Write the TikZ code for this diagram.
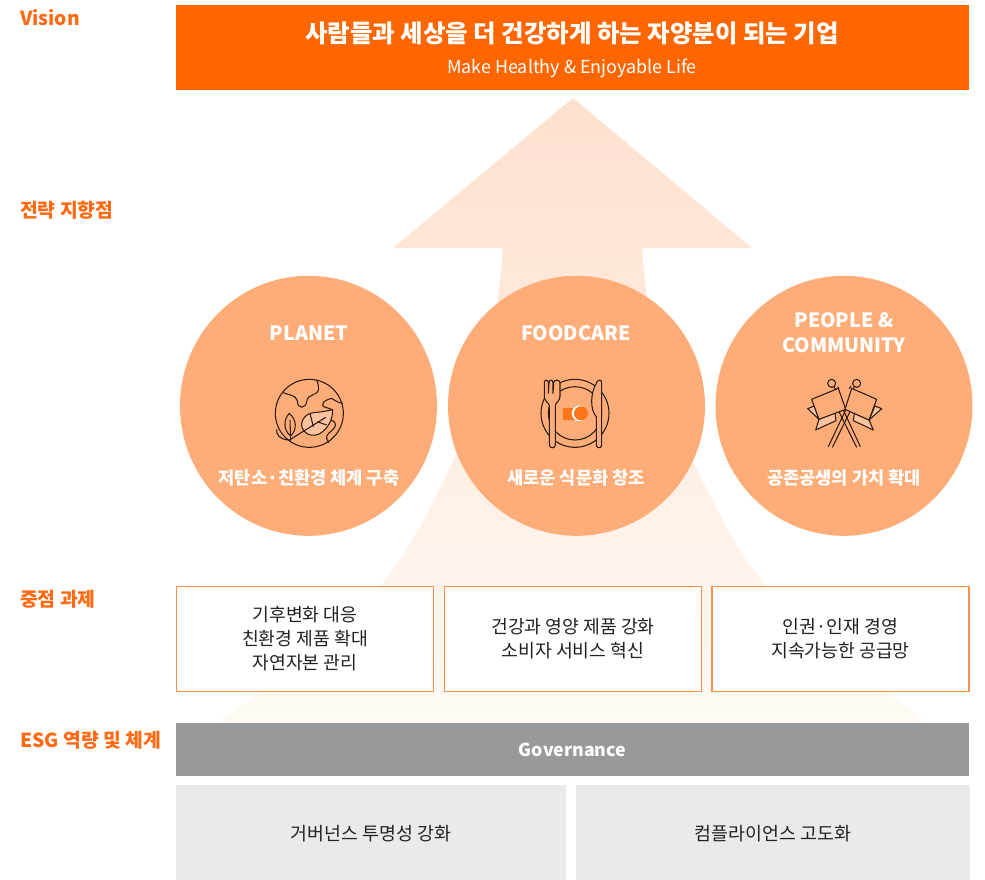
\documentclass[tikz,border=0pt]{standalone}
\usepackage{fontspec}
\setmainfont{Noto Sans CJK KR}
\usetikzlibrary{positioning,shapes.geometric}
\definecolor{mainorange}{HTML}{FF6600}
\definecolor{labelorange}{HTML}{FF6A13}
\definecolor{circleorange}{HTML}{FFAD78}
\definecolor{boxborder}{HTML}{FF8F4D}
\definecolor{govgray}{HTML}{999999}
\definecolor{lightgray}{HTML}{EAEAEA}
\definecolor{leaftone}{HTML}{FFC49E}
\definecolor{inkline}{HTML}{2A1A10}
\definecolor{texttone}{HTML}{222222}
\tikzset{
  sidelabel/.style={anchor=west,text=labelorange,font=\fontsize{11}{12}\selectfont\bfseries},
  pillar/.style={ellipse,fill=circleorange,minimum width=257*0.02cm,minimum height=260*0.02cm,inner sep=0pt},
  pillarname/.style={text=white,align=center,font=\fontsize{11.2}{14.4}\selectfont\bfseries},
  pillartext/.style={text=white,font=\fontsize{10}{12}\selectfont\bfseries},
  taskbox/.style={draw=boxborder,line width=.6pt,fill=white,minimum width=257*0.02cm,minimum height=105*0.02cm,inner sep=0pt,align=center,text=texttone,font=\fontsize{10.4}{13.7}\selectfont},
  basebox/.style={fill=lightgray,minimum height=97*0.02cm,inner sep=0pt,text=texttone,font=\fontsize{10.45}{12}\selectfont},
  icon/.style={draw=inkline,line width=.6pt,line join=round},
}
\begin{document}
\begin{tikzpicture}[x=.02cm,y=-.02cm]
    \useasboundingbox (0,0) rectangle (985,880);
    %Arrow
    \shade[top color=orange!15!white!95!red,bottom color=orange!4!white,shading angle=0]
      (573,98)--(752,248)--(642,248)
      .. controls (650,360) and (676,430) .. (707,490)
      .. controls (729,532) and (736,549) .. (766,586)
      .. controls (796,623) and (884,692) .. (929,723)
      --(217,723)
      .. controls (262,692) and (350,623) .. (380,586)
      .. controls (410,549) and (417,532) .. (439,490)
      .. controls (470,430) and (495,360) .. (503,248)
      --(393,248)--cycle;
    %Vision
    \node[fill=mainorange,minimum width=793*0.02cm,minimum height=85*0.02cm,inner sep=0pt] (vision) at (572.5,47.5) {};
    \node[text=white,font=\fontsize{13.9}{16}\selectfont\bfseries] (visiontitle) at (572,33) {사람들과 세상을 더 건강하게 하는 자양분이 되는 기업};
    \node[text=white,font=\fontsize{10.2}{12}\selectfont] (visionsub) at (572,68) {Make Healthy \& Enjoyable Life};
    %Side labels
    \node[sidelabel] (lvision) at (14,18) {Vision};
    \node[sidelabel] (lstrategy) at (14,210) {전략 지향점};
    \node[sidelabel] (ltask) at (14,599) {중점 과제};
    \node[sidelabel] (lesg) at (14,740) {ESG 역량 및 체계};
    %Circles
    \node[pillar] (planet) at (308.5,405.8) {};
    \node[pillar] (foodcare) at (576.5,405.8) {};
    \node[pillar] (people) at (844,405.8) {};
    \node[pillarname] (planetname) at (309,333) {PLANET};
    \node[pillarname] (foodname) at (576,333) {FOODCARE};
    \node[pillarname] (peoplename) at (844,333) {PEOPLE \&\\COMMUNITY};
    \node[pillartext] (planettext) at (309,478) {저탄소·친환경 체계 구축};
    \node[pillartext] (foodtext) at (576,478) {새로운 식문화 창조};
    \node[pillartext] (peopletext) at (844,478) {공존공생의 가치 확대};
    %Earth
    \begin{scope}[shift={(260,370)},x=.00667cm,y=-.00667cm]
    \draw[icon] (148,130) circle (102*.00667cm);
    \draw[icon] (70,68) .. controls (85,75) and (108,75) .. (112,92) .. controls (112,120) and (138,115) .. (140,95) .. controls (143,70) and (170,80) .. (176,58) .. controls (178,48) and (172,40) .. (170,30);
    \draw[icon] (248,100) .. controls (232,98) and (220,88) .. (215,85) .. controls (205,88) and (188,92) .. (188,105) .. controls (188,113) and (205,112) .. (218,120);
    \draw[icon] (208,150) .. controls (225,150) and (232,165) .. (222,175) .. controls (212,188) and (198,190) .. (200,205) .. controls (202,212) and (205,215) .. (207,218);
    \draw[icon] (50,178) .. controls (48,195) and (60,208) .. (86,210);
    \draw[icon,fill=leaftone] (133,184) .. controls (112,160) and (135,130) .. (160,128) .. controls (185,126) and (205,122) .. (218,119) .. controls (218,150) and (205,175) .. (178,192) .. controls (160,200) and (142,195) .. (133,184) --cycle;
    \draw[icon] (85,212)--(197,142) (150,130)--(160,170) (172,155)--(200,165);
    \draw[icon] (88,130) .. controls (68,150) and (72,185) .. (92,197) .. controls (112,180) and (110,148) .. (88,130) --cycle;
    \draw[icon] (90,150)--(92,212);
    \end{scope}
    %Plate
    \begin{scope}[shift={(525,370)},x=.00667cm,y=-.00667cm]
    \draw[icon] (150,130) circle (102*.00667cm);
    \draw[icon] (150,130) circle (80*.00667cm);
    \draw[icon,fill=circleorange] (58,38) .. controls (58,28) and (70,28) .. (70,38) --(70,70) --(72,38) .. controls (72,28) and (84,28) .. (84,38)--(84,70) --(86,38) .. controls (86,28) and (105,28) .. (105,38) --(105,80) .. controls (105,92) and (92,98) .. (91,106) --(91,225) .. controls (91,236) and (73,236) .. (73,225) --(73,106) .. controls (70,98) and (58,92) .. (58,80) --cycle;
    \draw[icon,fill=circleorange] (216,36) .. controls (220,28) and (230,28) .. (230,38) --(230,225) .. controls (230,236) and (214,236) .. (214,225) --(214,140) .. controls (195,120) and (195,70) .. (216,36) --cycle;
    \fill[mainorange!90!white] (115,113) rectangle (150,150);
    \fill[white] (163,130) circle (23*.00667cm);
    \fill[mainorange!90!white] (168,130) circle (21*.00667cm);
    \end{scope}
    %Flags
    \begin{scope}[shift={(795,370)},x=.00667cm,y=-.00667cm]
    \draw[icon,fill=leaftone] (38,116)--(58,108)--(72,148)--(120,128)--(123,152)--(62,180)--(72,148)--cycle;
    \draw[icon,fill=leaftone] (260,116)--(240,108)--(222,150)--(178,130)--(175,152)--(235,180)--(222,150)--cycle;
    \draw[icon] (110,40) circle (12*.00667cm) (185,40) circle (12*.00667cm);
    \draw[icon] (117,52)--(122,58) (128,50)--(132,56) (178,52)--(172,60) (168,48)--(163,56);
    \draw[icon] (132,125)--(185,232) (145,120)--(196,230);
    \draw[icon] (165,125)--(112,232) (152,120)--(100,230);
    \draw[icon,fill=circleorange] (50,88)--(130,55)--(152,118)--(72,148)--cycle;
    \draw[icon,fill=circleorange] (245,88)--(170,55)--(150,118)--(222,150)--cycle;
    \end{scope}
    %Tasks
    \node[taskbox] (climate) at (305,639) {기후변화 대응\\친환경 제품 확대\\자연자본 관리};
    \node[taskbox] (health) at (573,639) {건강과 영양 제품 강화\\소비자 서비스 혁신};
    \node[taskbox] (human) at (840.5,639) {인권·인재 경영\\지속가능한 공급망};
    %Governance
    \node[fill=govgray,minimum width=793*0.02cm,minimum height=53*0.02cm,inner sep=0pt,text=white,font=\fontsize{10.1}{12}\selectfont\bfseries] (gov) at (572.5,749.5) {Governance};
    \node[basebox,minimum width=390*0.02cm] (transparency) at (371,833.5) {거버넌스 투명성 강화};
    \node[basebox,minimum width=394*0.02cm] (compliance) at (773,833.5) {컴플라이언스 고도화};
\end{tikzpicture}
\end{document}
